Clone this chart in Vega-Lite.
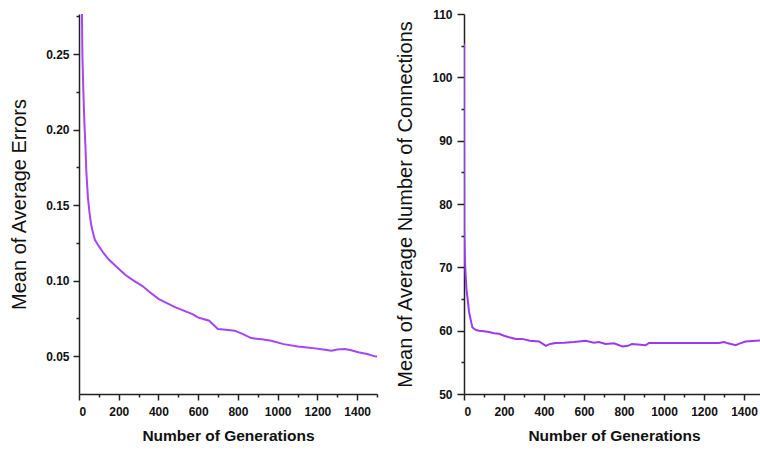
{
  "$schema": "https://vega.github.io/schema/vega-lite/v6.json",
  "background": "white",
  "padding": {"left": 9, "top": 8, "right": 0, "bottom": 0},
  "spacing": 17,
  "config": {
    "view": {"stroke": null},
    "axis": {
      "grid": false,
      "domainColor": "#222222",
      "tickColor": "#222222",
      "labelColor": "#111111",
      "titleColor": "#111111",
      "labelFont": "Liberation Sans",
      "titleFont": "Liberation Sans",
      "labelFontWeight": "bold",
      "labelFontSize": 12,
      "domainWidth": 1.5,
      "tickWidth": 1.5
    }
  },
  "datasets": {
    "errors": [
      {"generation": 14, "value": 0.30},
      {"generation": 15, "value": 0.275},
      {"generation": 17, "value": 0.25},
      {"generation": 22, "value": 0.225},
      {"generation": 27, "value": 0.205},
      {"generation": 32, "value": 0.19},
      {"generation": 37, "value": 0.172},
      {"generation": 45, "value": 0.155},
      {"generation": 52, "value": 0.146},
      {"generation": 60, "value": 0.138},
      {"generation": 66, "value": 0.134},
      {"generation": 80, "value": 0.127},
      {"generation": 99, "value": 0.123},
      {"generation": 125, "value": 0.118},
      {"generation": 150, "value": 0.114},
      {"generation": 190, "value": 0.109},
      {"generation": 234, "value": 0.1037},
      {"generation": 275, "value": 0.100},
      {"generation": 318, "value": 0.0966},
      {"generation": 360, "value": 0.092},
      {"generation": 402, "value": 0.0878},
      {"generation": 445, "value": 0.085},
      {"generation": 486, "value": 0.0823},
      {"generation": 530, "value": 0.080},
      {"generation": 571, "value": 0.0779},
      {"generation": 598, "value": 0.0757},
      {"generation": 630, "value": 0.0745},
      {"generation": 655, "value": 0.0735},
      {"generation": 699, "value": 0.068},
      {"generation": 740, "value": 0.0675},
      {"generation": 783, "value": 0.0669},
      {"generation": 820, "value": 0.065},
      {"generation": 867, "value": 0.062},
      {"generation": 920, "value": 0.0612},
      {"generation": 968, "value": 0.0603},
      {"generation": 1030, "value": 0.058},
      {"generation": 1102, "value": 0.0565},
      {"generation": 1150, "value": 0.0558},
      {"generation": 1187, "value": 0.0552},
      {"generation": 1230, "value": 0.0545},
      {"generation": 1271, "value": 0.0536},
      {"generation": 1300, "value": 0.0545},
      {"generation": 1338, "value": 0.0548},
      {"generation": 1370, "value": 0.054},
      {"generation": 1406, "value": 0.0526},
      {"generation": 1450, "value": 0.0515},
      {"generation": 1490, "value": 0.0499},
      {"generation": 1500, "value": 0.0498}
    ],
    "connections": [
      {"generation": 0, "value": 105.3},
      {"generation": 1, "value": 76},
      {"generation": 5, "value": 70.8},
      {"generation": 12, "value": 66.6},
      {"generation": 20, "value": 64.5},
      {"generation": 25, "value": 63},
      {"generation": 35, "value": 61.5},
      {"generation": 42, "value": 60.5},
      {"generation": 60, "value": 60.1},
      {"generation": 75, "value": 60},
      {"generation": 100, "value": 59.9},
      {"generation": 125, "value": 59.8},
      {"generation": 150, "value": 59.6},
      {"generation": 175, "value": 59.5},
      {"generation": 200, "value": 59.2},
      {"generation": 225, "value": 58.95},
      {"generation": 260, "value": 58.7},
      {"generation": 290, "value": 58.7},
      {"generation": 330, "value": 58.4},
      {"generation": 375, "value": 58.3},
      {"generation": 400, "value": 57.8},
      {"generation": 410, "value": 57.6},
      {"generation": 430, "value": 57.9},
      {"generation": 458, "value": 58.05},
      {"generation": 500, "value": 58.1},
      {"generation": 550, "value": 58.2},
      {"generation": 608, "value": 58.4},
      {"generation": 650, "value": 58.1},
      {"generation": 675, "value": 58.2},
      {"generation": 708, "value": 57.9},
      {"generation": 750, "value": 58.0},
      {"generation": 792, "value": 57.5},
      {"generation": 820, "value": 57.6},
      {"generation": 840, "value": 57.9},
      {"generation": 870, "value": 57.8},
      {"generation": 908, "value": 57.7},
      {"generation": 925, "value": 58.05},
      {"generation": 1275, "value": 58.05},
      {"generation": 1300, "value": 58.2},
      {"generation": 1320, "value": 58.0},
      {"generation": 1358, "value": 57.7},
      {"generation": 1380, "value": 58.0},
      {"generation": 1408, "value": 58.3},
      {"generation": 1458, "value": 58.4},
      {"generation": 1500, "value": 58.5}
    ]
  },
  "hconcat": [
    {
      "width": 298,
      "height": 380,
      "data": {"name": "errors"},
      "layer": [
        {
          "mark": {"type": "line", "color": "#a545f7", "strokeWidth": 2, "clip": true},
          "encoding": {
            "x": {
              "field": "generation", "type": "quantitative",
              "scale": {"domain": [0, 1500], "nice": false},
              "axis": {"values": [0, 200, 400, 600, 800, 1000, 1200, 1400], "format": "d", "title": "Number of Generations", "tickSize": 6, "labelPadding": 6, "titleFontSize": 15.5, "titleFontWeight": "bold", "titlePadding": 11}
            },
            "y": {
              "field": "value", "type": "quantitative",
              "scale": {"domain": [0.025, 0.2765], "nice": false, "zero": false},
              "axis": {"values": [0.05, 0.1, 0.15, 0.2, 0.25], "format": ".2f", "title": "Mean of Average Errors", "titleFontSize": 20, "titleFontWeight": "normal", "titlePadding": 16, "tickSize": 6, "labelPadding": 4}
            }
          }
        },
        {
          "mark": {"type": "line", "opacity": 0, "clip": true},
          "encoding": {
            "x": {"field": "generation", "type": "quantitative", "axis": {"orient": "bottom", "values": [100, 300, 500, 700, 900, 1100, 1300, 1500], "labels": false, "domain": false, "tickSize": 3, "title": null}},
            "y": {"field": "value", "type": "quantitative", "axis": {"orient": "left", "values": [0.075, 0.125, 0.175, 0.225, 0.275], "labels": false, "domain": false, "tickSize": 3, "title": null}}
          }
        }
      ],
      "resolve": {"axis": {"x": "independent", "y": "independent"}}
    },
    {
      "width": 300,
      "height": 380,
      "data": {"name": "connections"},
      "layer": [
        {
          "mark": {"type": "line", "color": "#9a3af0", "strokeWidth": 2, "clip": true},
          "encoding": {
            "x": {
              "field": "generation", "type": "quantitative",
              "scale": {"domain": [0, 1500], "nice": false},
              "axis": {"values": [0, 200, 400, 600, 800, 1000, 1200, 1400], "format": "d", "title": "Number of Generations", "tickSize": 6, "labelPadding": 6, "titleFontSize": 15.5, "titleFontWeight": "bold", "titlePadding": 11}
            },
            "y": {
              "field": "value", "type": "quantitative",
              "scale": {"domain": [50, 110], "nice": false, "zero": false},
              "axis": {"values": [50, 60, 70, 80, 90, 100, 110], "title": "Mean of Average Number of Connections", "titleFontSize": 20, "titleFontWeight": "normal", "titlePadding": 16, "tickSize": 7, "labelPadding": 5}
            }
          }
        },
        {
          "mark": {"type": "line", "opacity": 0, "clip": true},
          "encoding": {
            "x": {"field": "generation", "type": "quantitative", "axis": {"orient": "bottom", "values": [100, 300, 500, 700, 900, 1100, 1300, 1500], "labels": false, "domain": false, "tickSize": 3, "title": null}},
            "y": {"field": "value", "type": "quantitative", "axis": {"orient": "left", "values": [55, 65, 75, 85, 95, 105], "labels": false, "domain": false, "tickSize": 3, "title": null}}
          }
        }
      ],
      "resolve": {"axis": {"x": "independent", "y": "independent"}}
    }
  ]
}
